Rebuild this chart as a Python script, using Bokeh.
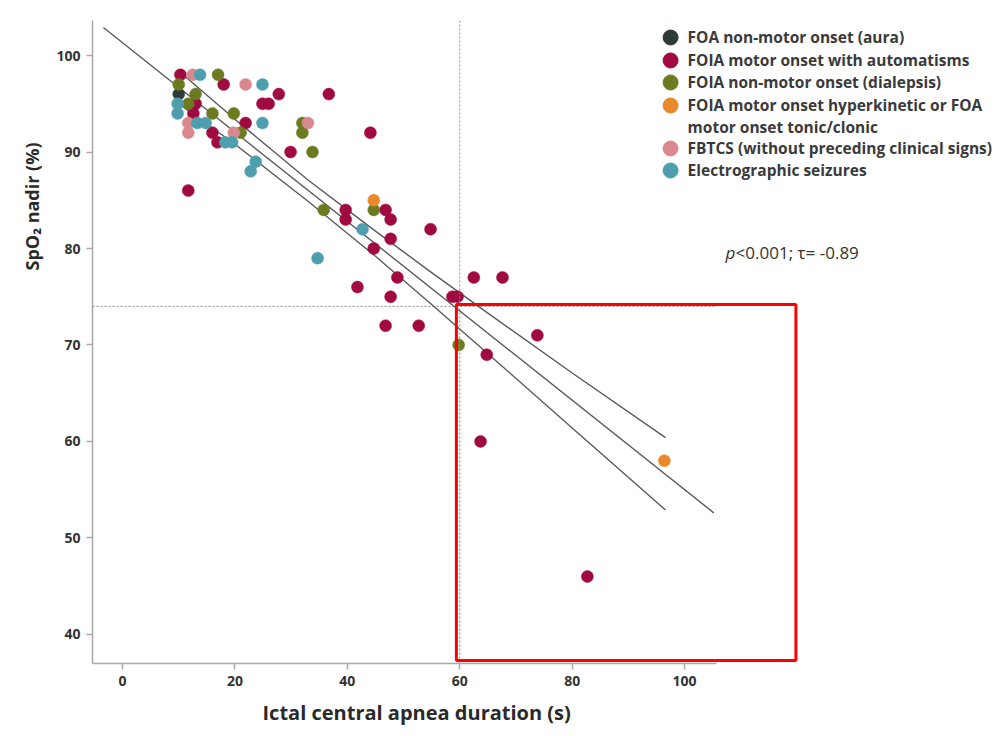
import math
from bokeh.plotting import figure
from bokeh.models import Range1d, FixedTicker, Span, Label, BoxAnnotation, Title
from bokeh.core.properties import value
from bokeh.embed import file_html
from bokeh.resources import INLINE

# ---------------- data ----------------
aura_x = [10.0]
aura_y = [96]

autom_x = [10.3, 18.0, 27.8, 24.9, 26.0, 36.7, 13.0, 12.6, 21.9, 16.0, 16.9, 11.7,
           44.1, 29.9, 39.7, 39.7, 46.8, 47.7, 54.8, 47.7, 44.7, 48.9, 41.8, 47.7,
           62.5, 67.6, 58.7, 59.6, 46.8, 52.7, 73.8, 64.8, 63.7, 82.7]
autom_y = [98, 97, 96, 95, 95, 96, 95, 94, 93, 92, 91, 86,
           92, 90, 84, 83, 84, 83, 82, 81, 80, 77, 76, 75,
           77, 77, 75, 75, 72, 72, 71, 69, 60, 46]

dial_x = [10.0, 13.0, 11.7, 16.0, 19.8, 21.0, 17.0, 32.0, 32.0, 33.8, 35.8, 44.7, 59.8]
dial_y = [97, 96, 95, 94, 94, 92, 98, 93, 92, 90, 84, 84, 70]

hyper_x = [44.7, 96.4]
hyper_y = [85, 58]

fbtcs_x = [12.5, 21.9, 11.7, 11.7, 19.8, 33.0]
fbtcs_y = [98, 97, 93, 92, 92, 93]

electro_x = [13.8, 24.9, 9.8, 9.8, 13.3, 14.8, 24.9, 18.3, 19.5, 23.7, 22.8, 42.7, 34.7]
electro_y = [98, 97, 95, 94, 93, 93, 93, 91, 91, 89, 88, 82, 79]

# regression line and its 95% confidence band
fit_x = [-3.4, 105.2]
fit_y = [102.9, 52.6]
ci_x = [10, 20, 33, 45, 55, 65, 80, 96.6]
ci_upper = [98.4, 93.4, 87.1, 81.8, 77.5, 73.3, 67.1, 60.4]
ci_lower = [95.0, 90.8, 84.9, 79.2, 74.2, 69.1, 61.4, 52.9]

# reference cut-offs
ref_duration = 60
ref_spo2 = 74

# highlighted region
box_left, box_right, box_bottom, box_top = 59.4, 119.8, 37.3, 74.2

series_labels = [
    "FOA non-motor onset (aura)",
    "FOIA motor onset with automatisms",
    "FOIA non-motor onset (dialepsis)",
    "FOIA motor onset hyperkinetic or FOA",
    "FBTCS (without preceding clinical signs)",
    "Electrographic seizures",
]
label_continuation = "motor onset tonic/clonic"
colors = ["#2e3b3b", "#a10a40", "#6d7b20", "#e9892c", "#d9898e", "#4d9fae"]

x_ticks = [0, 20, 40, 60, 80, 100]
y_ticks = [40, 50, 60, 70, 80, 90, 100]

FONT = "Open Sans"

# ---------------- figure ----------------
p = figure(width=1001, height=736,
           x_range=Range1d(-5.34, 156.2), y_range=Range1d(36.99, 103.63),
           output_backend="svg", toolbar_location=None,
           min_border_left=92, min_border_right=1, min_border_top=20, min_border_bottom=73)
p.outline_line_color = None
p.grid.visible = False
p.background_fill_color = "white"

for ax in (p.xaxis[0], p.yaxis[0]):
    ax.axis_line_color = "#a8a8a8"
    ax.axis_line_width = 1.5
    ax.major_tick_line_color = "#a8a8a8"
    ax.major_tick_line_width = 1.5
    ax.major_tick_out = 6
    ax.major_tick_in = 0
    ax.minor_tick_line_color = None
    ax.major_label_text_font = FONT
    ax.major_label_text_font_style = "bold"
    ax.major_label_text_font_size = "14px"
    ax.major_label_text_color = "#333333"

p.xaxis.ticker = FixedTicker(ticks=x_ticks)
p.yaxis.ticker = FixedTicker(ticks=y_ticks)
p.xaxis.bounds = (-5.34, 105.7)
p.xaxis.major_label_standoff = 6
p.yaxis.major_label_standoff = 6

# axis titles as side-panel titles (positioned off-centre like the reference)
p.add_layout(Title(text="Ictal central apnea duration (s)", align="left", offset=170,
                   text_font=FONT, text_font_style="bold", text_font_size="20px",
                   text_color="#2a2a2a", standoff=16), "below")
p.add_layout(Title(text="SpO\u2082 nadir (%)", align="left", offset=393,
                   text_font=FONT, text_font_style="bold", text_font_size="18px",
                   text_color="#2a2a2a", standoff=19), "left")

# reference lines
p.add_layout(Span(location=ref_duration, dimension="height", line_color="#8a8a8a",
                  line_dash="2 2", line_width=1))
p.line([-5.34, 105.7], [ref_spo2, ref_spo2], line_color="#8a8a8a", line_dash="2 2", line_width=1)

# regression + CI
p.line(fit_x, fit_y, line_color="#5a5a5a", line_width=1.4)
p.line(ci_x, ci_upper, line_color="#5a5a5a", line_width=1.4)
p.line(ci_x, ci_lower, line_color="#5a5a5a", line_width=1.4)

# points
groups = [(aura_x, aura_y), (autom_x, autom_y), (dial_x, dial_y),
          (hyper_x, hyper_y), (fbtcs_x, fbtcs_y), (electro_x, electro_y)]
for (gx, gy), c in zip(groups, colors):
    p.scatter(gx, gy, size=12, fill_color=c, line_color=c, line_width=0.5)

# highlight box
p.add_layout(BoxAnnotation(left=box_left, right=box_right, bottom=box_bottom, top=box_top,
                           fill_alpha=0, line_color="#ff0000", line_alpha=1.0, line_width=3))

# manual legend (positions converted from screen layout)
def sx(px):
    return -5.34 + (px - 92) / 5.62

def sy(py):
    return 103.63 - (py - 20) / 9.65

row_py = [37, 60, 82, 105, 148, 170]
p.scatter([sx(670)] * 6, [sy(v) for v in row_py], size=15, fill_color=colors, line_color=colors)
leg_txt = series_labels[:4] + [label_continuation] + series_labels[4:]
leg_py = [37, 60, 82, 105, 127, 148, 170]
p.text([sx(687)] * 7, [sy(v) for v in leg_py], text=leg_txt,
       text_font=value(FONT), text_font_style="bold", text_font_size="15.5px",
       text_color="#3a3a3a", text_baseline="middle", text_align="left")

# statistics annotation
p.add_layout(Label(x=sx(725), y=sy(252), text="p", text_font=FONT, text_font_style="italic",
                   text_font_size="17px", text_color="#333333", text_baseline="middle"))
p.add_layout(Label(x=sx(735), y=sy(252), text="<0.001; \u03c4= -0.89", text_font=FONT,
                   text_font_size="17px", text_color="#333333", text_baseline="middle"))

open("out.html", "w").write(file_html(p, INLINE))
